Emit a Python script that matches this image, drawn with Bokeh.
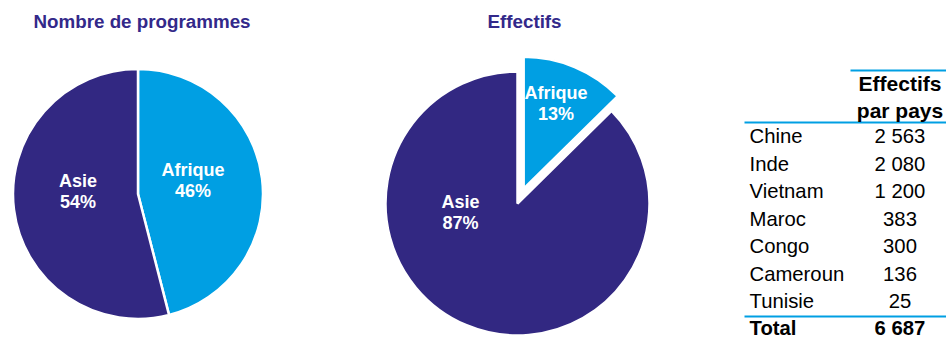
import numpy as np
from bokeh.plotting import figure
from bokeh.models import Range1d
from bokeh.core.properties import value
from bokeh.embed import file_html
from bokeh.resources import INLINE

# ---------------- data ----------------
regions = ["Afrique", "Asie"]
programmes_share = [46, 54]          # % of programmes
countries = ["Chine", "Inde", "Vietnam", "Maroc", "Congo", "Cameroun", "Tunisie"]
effectifs = [2563, 2080, 1200, 383, 300, 136, 25]
country_region = ["Asie", "Asie", "Asie", "Afrique", "Afrique", "Afrique", "Afrique"]
title_left = "Nombre de programmes"
title_right = "Effectifs"
table_header = ["Effectifs", "par pays"]
total_label = "Total"

effectifs_region = [sum(e for e, r in zip(effectifs, country_region) if r == reg) for reg in regions]

# ---------------- style ----------------
DARK = "#322882"
BLUE = "#009FE3"
FONT = "Liberation Sans"
W, H = 946, 337


def Y(py):
    return H - py


def TY(py, fs):
    # baseline position compensated for the renderer's baseline shift
    return H - (py - 0.38 * fs)


p = figure(width=W, height=H, output_backend="svg", toolbar_location=None,
           x_range=Range1d(0, W), y_range=Range1d(0, H),
           min_border=0, outline_line_color=None)
p.axis.visible = False
p.grid.visible = False
p.background_fill_color = "white"

colors = {"Afrique": BLUE, "Asie": DARK}
LFS = 18


def pie(cx, cy, r, vals, explode, label_off):
    tot = float(sum(vals))
    cum = 0.0
    for reg, v, ex, (ldx, ldy) in zip(regions, vals, explode, label_off):
        a0 = cum / tot * 2 * np.pi
        cum += v
        a1 = cum / tot * 2 * np.pi
        start = np.pi / 2 - a1
        end = np.pi / 2 - a0
        mid = (start + end) / 2
        x = cx + ex * np.cos(mid)
        y = Y(cy) + ex * np.sin(mid)
        p.wedge(x=[x], y=[y], radius=r, start_angle=start, end_angle=end,
                fill_color=colors[reg], line_color="white", line_width=2.5)
        pct = f"{round(v / tot * 100)}%"
        p.text(x=[cx + ldx], y=[TY(cy + ldy, LFS)], text=[reg], text_align="center",
               text_baseline="alphabetic", text_color="white",
               text_font=value(FONT), text_font_style="bold", text_font_size=f"{LFS}px")
        p.text(x=[cx + ldx], y=[TY(cy + ldy + 21, LFS)], text=[pct], text_align="center",
               text_baseline="alphabetic", text_color="white",
               text_font=value(FONT), text_font_style="bold", text_font_size=f"{LFS}px")


# left pie
pie(137.5, 193.5, 125, programmes_share, [0, 0], [(55, -17), (-60, -6.5)])
# right pie
pie(517, 203, 132, effectifs_region, [16, 0], [(38.5, -104), (-57, 5)])

# titles
TFS = 18.8
for tx, t in [(141.5, title_left), (524, title_right)]:
    p.text(x=[tx], y=[TY(28, TFS)], text=[t], text_align="center", text_baseline="alphabetic",
           text_color="#33298A", text_font=value(FONT), text_font_style="bold",
           text_font_size=f"{TFS}px")

# table
VX = 899.5
LX = 749
HFS = 21
RFS = 20.3
p.segment(x0=[850], y0=[Y(70)], x1=[946], y1=[Y(70)], line_color=BLUE, line_width=2)
p.segment(x0=[744], y0=[Y(122)], x1=[946], y1=[Y(122)], line_color=BLUE, line_width=2)
p.segment(x0=[744], y0=[Y(316)], x1=[946], y1=[Y(316)], line_color=BLUE, line_width=2)
for i, h in enumerate(table_header):
    p.text(x=[VX], y=[TY(91 + 27 * i, HFS)], text=[h], text_align="center", text_baseline="alphabetic",
           text_color="black", text_font=value(FONT), text_font_style="bold", text_font_size=f"{HFS}px")

row_y = [TY(143.3 + 27.5 * i, RFS) for i in range(len(countries))]
vals_txt = [f"{v:,}".replace(",", " ") for v in effectifs]
p.text(x=[LX] * len(countries), y=row_y, text=countries, text_align="left",
       text_baseline="alphabetic", text_color="black", text_font=value(FONT), text_font_size=f"{RFS}px")
p.text(x=[VX] * len(countries), y=row_y, text=vals_txt, text_align="center",
       text_baseline="alphabetic", text_color="black", text_font=value(FONT), text_font_size=f"{RFS}px")

total_txt = f"{sum(effectifs):,}".replace(",", " ")
p.text(x=[LX], y=[TY(335.5, RFS)], text=[total_label], text_align="left", text_baseline="alphabetic",
       text_color="black", text_font=value(FONT), text_font_style="bold", text_font_size=f"{RFS}px")
p.text(x=[VX], y=[TY(335.5, RFS)], text=[total_txt], text_align="center", text_baseline="alphabetic",
       text_color="black", text_font=value(FONT), text_font_style="bold", text_font_size=f"{RFS}px")

open("out.html", "w").write(file_html(p, INLINE))
